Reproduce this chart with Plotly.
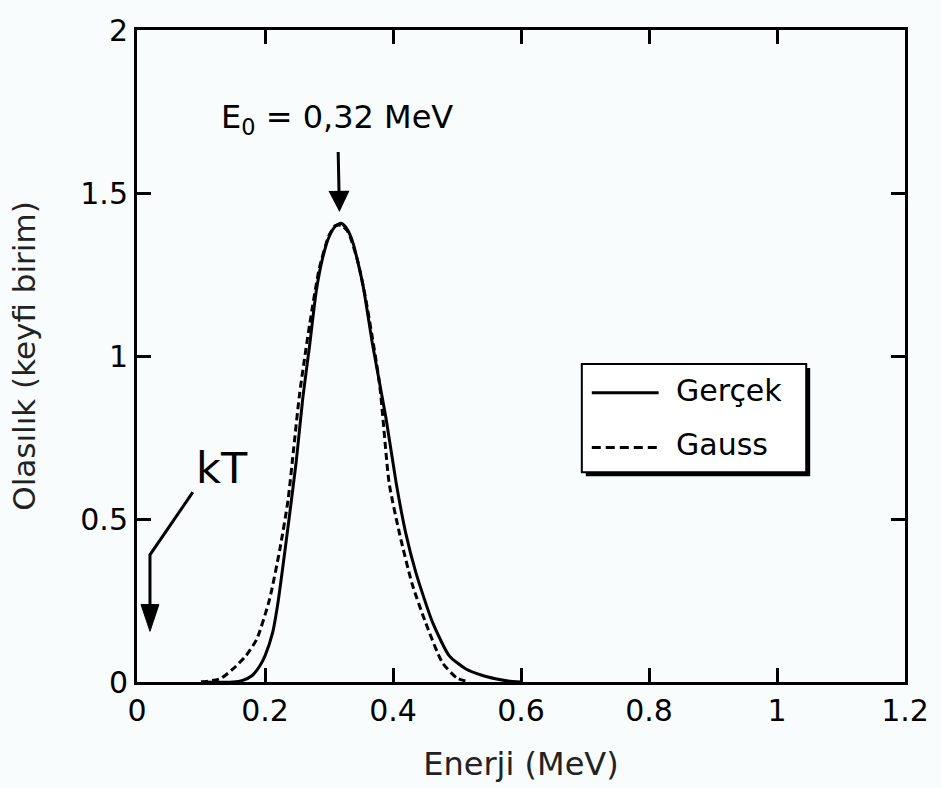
import plotly.graph_objects as go

# Data
gercek_x = [0.10, 0.15, 0.165, 0.18, 0.192, 0.20, 0.212, 0.22, 0.228, 0.238, 0.249, 0.259,
            0.27, 0.28, 0.29, 0.30, 0.31, 0.319, 0.328, 0.337, 0.353, 0.368, 0.389, 0.405,
            0.42, 0.436, 0.462, 0.488, 0.514, 0.54, 0.56, 0.58, 0.60]
gercek_y = [0.0, 0.0, 0.005, 0.02, 0.05, 0.08, 0.152, 0.24, 0.355, 0.507, 0.68, 0.87,
            1.037, 1.198, 1.30, 1.365, 1.398, 1.407, 1.39, 1.35, 1.218, 1.036, 0.81, 0.61,
            0.456, 0.334, 0.182, 0.08, 0.04, 0.02, 0.01, 0.003, 0.0]

gauss_x = [0.10, 0.13, 0.15, 0.17, 0.187, 0.207, 0.223, 0.236, 0.245, 0.254, 0.27, 0.285,
           0.30, 0.31, 0.32, 0.33, 0.345, 0.358, 0.379, 0.394, 0.41, 0.43, 0.451, 0.477,
           0.50, 0.52]
gauss_y = [0.0, 0.01, 0.04, 0.08, 0.131, 0.253, 0.405, 0.558, 0.72, 0.883, 1.1, 1.27,
           1.37, 1.40, 1.40, 1.38, 1.29, 1.168, 0.914, 0.61, 0.457, 0.30, 0.182, 0.06,
           0.012, 0.0]

x_ticks = [0, 0.2, 0.4, 0.6, 0.8, 1, 1.2]
x_ticklabels = ["0", "0.2", "0.4", "0.6", "0.8", "1", "1.2"]
y_ticks = [0, 0.5, 1, 1.5, 2]
y_ticklabels = ["0", "0.5", "1", "1.5", "2"]

series_names = ["Gerçek", "Gauss"]

FONT = "DejaVu Sans"
BG = "#f8fcfd"

# pixel helpers for annotation / decoration placement (plot area 137..907 x 27..683)
def px_x(p):
    return (p - 137) / 641.7

def px_y(p):
    return (683 - p) / 328

fig = go.Figure()
fig.add_trace(go.Scatter(x=gercek_x, y=gercek_y, mode="lines", name=series_names[0],
                         line=dict(color="black", width=3, shape="spline", smoothing=0.6),
                         showlegend=False))
fig.add_trace(go.Scatter(x=gauss_x, y=gauss_y, mode="lines", name=series_names[1],
                         line=dict(color="black", width=3, dash="7px,4px", shape="spline", smoothing=0.6),
                         showlegend=False))

axis_common = dict(showline=True, linecolor="black", linewidth=3, mirror="ticks",
                   ticks="inside", ticklen=14, tickwidth=3, tickcolor="black",
                   showgrid=False, zeroline=False,
                   tickfont=dict(family=FONT, size=30, color="black"))

fig.update_xaxes(range=[0, 1.2], tickvals=x_ticks, ticktext=x_ticklabels,
                 title=dict(text="Enerji (MeV)", font=dict(family=FONT, size=32, color="#222"),
                            standoff=26),
                 **axis_common)
fig.update_yaxes(range=[0, 2], tickvals=y_ticks, ticktext=y_ticklabels,
                 title=dict(text="Olasılık (keyfi birim)", font=dict(family=FONT, size=31, color="#222"),
                            standoff=36),
                 **axis_common)

# Legend drawn manually (box with drop shadow)
lx0, lx1, ly0, ly1 = px_x(583), px_x(808), px_y(472), px_y(363)
sdx, sdy = 4 / 641.7, 4 / 328
shapes = [
    dict(type="rect", xref="x", yref="y", x0=lx0 + sdx, x1=lx1 + sdx, y0=ly0 - sdy, y1=ly1 - sdy,
         fillcolor="black", line=dict(width=0), layer="above"),
    dict(type="rect", xref="x", yref="y", x0=lx0, x1=lx1, y0=ly0, y1=ly1,
         fillcolor="white", line=dict(color="black", width=2), layer="above"),
    dict(type="line", xref="x", yref="y", x0=px_x(593), x1=px_x(660),
         y0=px_y(392), y1=px_y(392), line=dict(color="black", width=3), layer="above"),
    dict(type="line", xref="x", yref="y", x0=px_x(593), x1=px_x(660),
         y0=px_y(447), y1=px_y(447), line=dict(color="black", width=3, dash="9px,5px"),
         layer="above"),
    # kT leader: diagonal + vertical shaft
    dict(type="path", xref="x", yref="y",
         path=f"M {px_x(193)},{px_y(492)} L {px_x(150)},{px_y(555)} L {px_x(150)},{px_y(612)}",
         line=dict(color="black", width=3)),
    # kT arrowhead
    dict(type="path", xref="x", yref="y",
         path=f"M {px_x(141)},{px_y(605)} L {px_x(159)},{px_y(605)} L {px_x(150)},{px_y(632)} Z",
         fillcolor="black", line=dict(color="black", width=1)),
]

annotations = [
    dict(x=px_x(675), y=px_y(390), xref="x", yref="y", text=series_names[0],
         showarrow=False, xanchor="left", yanchor="middle",
         font=dict(family=FONT, size=30, color="black")),
    dict(x=px_x(675), y=px_y(444), xref="x", yref="y", text=series_names[1],
         showarrow=False, xanchor="left", yanchor="middle",
         font=dict(family=FONT, size=30, color="black")),
    dict(x=px_x(340), y=px_y(210), xref="x", yref="y",
         ax=px_x(338), ay=px_y(117), axref="x", ayref="y",
         text="E<sub>0</sub> = 0,32 MeV", showarrow=True, arrowhead=2, arrowwidth=3,
         arrowsize=1.4, arrowcolor="black", startstandoff=10,
         font=dict(family=FONT, size=32, color="black")),
    dict(x=px_x(222), y=px_y(468), xref="x", yref="y", text="kT", showarrow=False,
         xanchor="center", yanchor="middle", font=dict(family=FONT, size=43, color="black")),
]

fig.update_layout(width=941, height=788, margin=dict(l=137, r=34, t=27, b=105),
                  paper_bgcolor=BG, plot_bgcolor=BG, shapes=shapes, annotations=annotations,
                  font=dict(family=FONT, color="black"))

fig.write_html("out.html")
